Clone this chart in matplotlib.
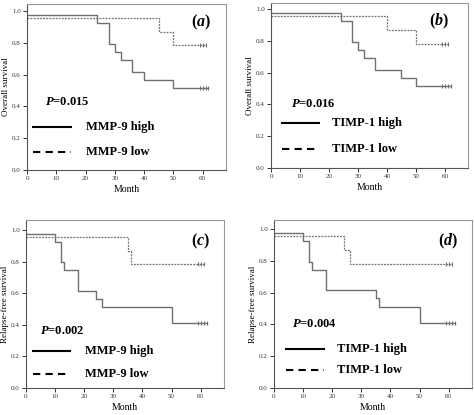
import matplotlib
matplotlib.use('Agg')
import matplotlib.pyplot as plt

plt.rcParams['font.family'] = 'Liberation Serif'
plt.rcParams['mathtext.fontset'] = 'custom'
plt.rcParams['mathtext.bfit'] = 'Liberation Serif:italic:bold'
plt.rcParams['mathtext.it'] = 'Liberation Serif:italic'
plt.rcParams['mathtext.rm'] = 'Liberation Serif'

# Kaplan-Meier step data (time in months, survival fraction)
a_high_t = [0, 24, 28, 30, 32, 36, 40, 50]
a_high_s = [0.974, 0.923, 0.795, 0.744, 0.692, 0.615, 0.564, 0.513]
a_low_t = [0, 45, 50]
a_low_s = [0.957, 0.870, 0.783]

b_high_t = [0, 24, 28, 30, 32, 36, 45, 50]
b_high_s = [0.974, 0.923, 0.795, 0.744, 0.692, 0.615, 0.564, 0.513]
b_low_t = [0, 40, 50]
b_low_s = [0.957, 0.870, 0.783]

c_high_t = [0, 10, 12, 13, 18, 24, 26, 50]
c_high_s = [0.974, 0.923, 0.795, 0.744, 0.615, 0.564, 0.513, 0.410]
c_low_t = [0, 35, 36]
c_low_s = [0.957, 0.870, 0.783]

d_high_t = [0, 10, 12, 13, 18, 35, 36, 50]
d_high_s = [0.974, 0.923, 0.795, 0.744, 0.615, 0.564, 0.513, 0.410]
d_low_t = [0, 24, 26]
d_low_s = [0.957, 0.870, 0.783]

censor_high = [59, 60, 61, 62]
censor_low = [59, 60, 61]

letters = ['a', 'b', 'c', 'd']
markers = ['MMP-9', 'TIMP-1', 'MMP-9', 'TIMP-1']
p_values = ['0.015', '0.016', '0.002', '0.004']
ylabels = ['Overall survival', 'Overall survival', 'Relapse-free survival', 'Relapse-free survival']
x_ticks = [0, 10, 20, 30, 40, 50, 60]
y_ticks = [0.0, 0.2, 0.4, 0.6, 0.8, 1.0]

W, H = 474, 415
fig = plt.figure(figsize=(W / 100, H / 100), dpi=100)

# axes boxes in pixels: left, top, right, bottom
boxes = [(27, 4, 226, 170), (271, 3, 468, 168), (26, 220, 224, 388), (274, 220, 472, 388)]
ytops = [1.044, 1.038, 1.063, 1.058]

# layout of legend/labels in axes fractions
leg_line_x = [(0.03, 0.22), (0.056, 0.244), (0.035, 0.22), (0.06, 0.25)]
leg_y = [(0.26, 0.108), (0.27, 0.115), (0.22, 0.083), (0.23, 0.107)]
leg_text_x = [0.296, 0.31, 0.30, 0.32]
p_pos = [(0.09, 0.41), (0.10, 0.39), (0.07, 0.34), (0.09, 0.38)]
lab_pos = [(0.875, 0.89), (0.853, 0.89), (0.88, 0.87), (0.88, 0.875)]

curves = [(a_high_t, a_high_s, a_low_t, a_low_s),
          (b_high_t, b_high_s, b_low_t, b_low_s),
          (c_high_t, c_high_s, c_low_t, c_low_s),
          (d_high_t, d_high_s, d_low_t, d_low_s)]

line_col = '#707070'

for i in range(4):
    l, t, r, b = boxes[i]
    ax = fig.add_axes([l / W, 1 - b / H, (r - l) / W, (b - t) / H])
    ht, hs, lt, ls = curves[i]

    # high group: solid step curve extended to last censored time
    ax.step(ht + [censor_high[-1]], hs + [hs[-1]], where='post', color=line_col, lw=1.0)
    ax.plot(censor_high, [hs[-1]] * len(censor_high), ls='none', marker='|',
            ms=3.5, mew=0.8, color=line_col)
    # low group: fine dashed step curve
    ax.step(lt + [censor_low[-1]], ls + [ls[-1]], where='post', color=line_col,
            lw=0.9, linestyle=(0, (1.5, 1)))
    ax.plot(censor_low, [ls[-1]] * len(censor_low), ls='none', marker='|',
            ms=3.5, mew=0.8, color=line_col)

    ax.set_xlim(0, 68)
    ax.set_ylim(0, ytops[i])
    ax.set_xticks(x_ticks)
    ax.set_yticks(y_ticks)
    ax.set_yticklabels(['%.1f' % v for v in y_ticks])
    ax.tick_params(direction='out', length=3, width=0.7, labelsize=5, pad=1.5,
                   colors='#333333')
    for s in ['top', 'right']:
        ax.spines[s].set_color('#999999')
        ax.spines[s].set_linewidth(0.8)
    for s in ['left', 'bottom']:
        ax.spines[s].set_color('#555555')
        ax.spines[s].set_linewidth(0.8)

    ax.set_xlabel('Month', fontsize=7, labelpad=3)
    ax.set_ylabel(ylabels[i], fontsize=6.5, labelpad=1.5)

    # manual legend
    x0, x1 = leg_line_x[i]
    y_hi, y_lo = leg_y[i]
    ax.plot([x0, x1], [y_hi, y_hi], transform=ax.transAxes, color='black', lw=1.5)
    ax.plot([x0, x1], [y_lo, y_lo], transform=ax.transAxes, color='black', lw=1.5,
            linestyle=(0, (3.5, 2.5)))
    ax.text(leg_text_x[i], y_hi, markers[i] + ' high', transform=ax.transAxes,
            fontsize=9, fontweight='bold', va='center', ha='left')
    ax.text(leg_text_x[i], y_lo, markers[i] + ' low', transform=ax.transAxes,
            fontsize=9, fontweight='bold', va='center', ha='left')

    ax.text(p_pos[i][0], p_pos[i][1], r'$\mathbfit{P}$=' + p_values[i],
            transform=ax.transAxes, fontsize=9, fontweight='bold', va='center', ha='left')
    ax.text(lab_pos[i][0], lab_pos[i][1], r'($\mathbfit{' + letters[i] + '}$)',
            transform=ax.transAxes, fontsize=11.5, fontweight='bold', va='center', ha='center')

fig.savefig('out.png', dpi=100)
